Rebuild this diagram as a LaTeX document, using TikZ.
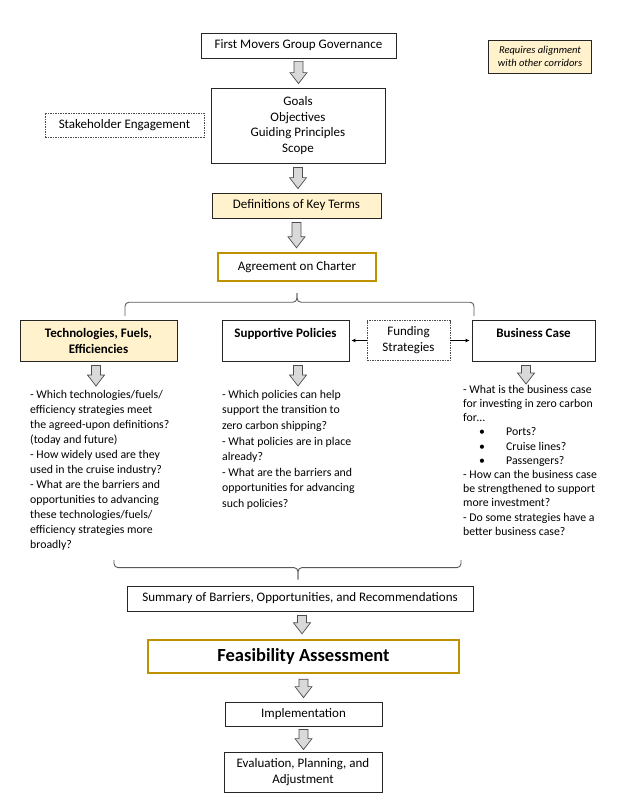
\documentclass[tikz,border=0pt]{standalone}
\usepackage{fontspec}
\setmainfont{Carlito}
\usetikzlibrary{calc,arrows.meta}
\definecolor{paleyellow}{HTML}{FFF2CC}
\definecolor{goldline}{HTML}{BF9000}
\definecolor{arrowfill}{HTML}{D9D9D9}
\definecolor{arrowdraw}{HTML}{4D4D4D}
\definecolor{bracegrey}{HTML}{595959}
\tikzset{
    box/.style={draw=black!85,line width=0.8pt,inner sep=2pt,align=center,font=\fontsize{13}{15.8}\selectfont},
    dashbox/.style={box,draw=black!70,dash pattern=on 1.5pt off 1pt},
    keybox/.style={box,fill=paleyellow},
    goldbox/.style={box,draw=goldline,line width=2.4pt},
    question/.style={inner sep=0pt,anchor=north west,align=left,font=\fontsize{11.8}{15}\selectfont},
    downarrow/.style={draw=arrowdraw,fill=arrowfill,line width=0.7pt,
        to path={let \p1=(\tikztostart), \p2=(\tikztotarget) in
            (\x1-4.5pt,\y1) -- (\x1+4.5pt,\y1) -- (\x1+4.5pt,\y2+11pt) -- (\x1+8.5pt,\y2+11pt)
            -- (\x1,\y2) -- (\x1-8.5pt,\y2+11pt) -- (\x1-4.5pt,\y2+11pt) -- cycle}},
    sidearrow/.style={-{Latex[length=4pt,width=4pt]},line width=0.8pt,shorten >=2pt},
    brace/.style={draw=bracegrey,line width=0.9pt,rounded corners=4pt}
}
\begin{document}
\begin{tikzpicture}[x=1pt,y=-1pt]
        \useasboundingbox (0,0) rectangle (624,808);
        % top of the chart
        \path (298.5,45.5) node[box,minimum width=195,minimum height=25](govern){First Movers Group Governance};
        \path (540,56.5) node[keybox,minimum width=103,minimum height=33,font=\fontsize{10.5}{12.5}\selectfont\itshape](corridors){Requires alignment\\with other corridors};
        \path (124.5,125) node[dashbox,minimum width=159,minimum height=24](stakeholder){Stakeholder Engagement};
        \path (298,125.5) node[box,minimum width=174,minimum height=75](goals){Goals\\Objectives\\Guiding Principles\\Scope};
        \path (296.5,205.5) node[keybox,minimum width=169,minimum height=25](terms){Definitions of Key Terms};
        \path (297,267) node[goldbox,minimum width=158,minimum height=28](charter){Agreement on Charter};
        \draw[downarrow] ([yshift=-3pt]govern.south) to ([yshift=4pt]goals.north);
        \draw[downarrow] ([yshift=-4pt]goals.south) to ([yshift=4pt]terms.north);
        \draw[downarrow] ([yshift=-4pt]terms.south) to ([yshift=4pt]charter.north);

        % three work streams
        \path (98.5,340.5) node[keybox,minimum width=157,minimum height=41,font=\fontsize{13}{16}\selectfont\bfseries](tech){Technologies, Fuels,\\Efficiencies};
        \path (285.5,340.5) node[box,minimum width=127,minimum height=41,font=\fontsize{13}{16}\selectfont\bfseries](policies){Supportive Policies\\~};
        \path (408.5,340.5) node[dashbox,minimum width=83,minimum height=40,font=\fontsize{13}{16}\selectfont](funding){Funding\\Strategies};
        \path (533.5,340.5) node[box,minimum width=123,minimum height=41,font=\fontsize{13}{16}\selectfont\bfseries](business){Business Case\\~};
        \draw[sidearrow] (funding.west) -- (policies.east);
        \draw[sidearrow] (funding.east) -- (business.west);
        \coordinate (toptip) at ([yshift=-11pt]charter.south);
        \draw[brace] (125,316) |- ($(toptip)+(0,9)$) -- (toptip);
        \draw[brace] (toptip) -- ($(toptip)+(0,9)$) -| (474,316);

        % questions
        \path (30,390) node[question](techq){- Which technologies/fuels/\\efficiency strategies meet\\the agreed-upon definitions?\\(today and future)\\- How widely used are they\\used in the cruise industry?\\- What are the barriers and\\opportunities to advancing\\these technologies/fuels/\\efficiency strategies more\\broadly?};
        \path (222,390) node[question,font=\fontsize{11.8}{15.6}\selectfont](policyq){- Which policies can help\\support the transition to\\zero carbon shipping?\\- What policies are in place\\already?\\- What are the barriers and\\opportunities for advancing\\such policies?};
        \path (463,385) node[question,font=\fontsize{11.8}{14.2}\selectfont](businessq){- What is the business case\\for investing in zero carbon\\for…\\
            \makebox[43pt][l]{\hspace{16pt}\textbullet}Ports?\\
            \makebox[43pt][l]{\hspace{16pt}\textbullet}Cruise lines?\\
            \makebox[43pt][l]{\hspace{16pt}\textbullet}Passengers?\\
            - How can the business case\\be strengthened to support\\more investment?\\- Do some strategies have a\\better business case?};
        \draw[downarrow] ([xshift=-2.5pt,yshift=-4pt]tech.south) to ([yshift=4pt]techq.north);
        \draw[downarrow] ([xshift=12.5pt,yshift=-4pt]policies.south) to ([yshift=4pt]techq.north);
        \draw[downarrow] ([xshift=-7.5pt,yshift=-4pt]business.south) to ([yshift=1pt]businessq.north);

        % bottom of the chart
        \path (300,598.5) node[box,minimum width=346,minimum height=25](summary){Summary of Barriers, Opportunities, and Recommendations};
        \path (303.5,656.5) node[goldbox,minimum width=311,minimum height=33,font=\fontsize{18.5}{22}\selectfont\bfseries](feasibility){Feasibility Assessment};
        \path (303.5,714) node[box,minimum width=157,minimum height=24](implementation){Implementation};
        \path (303,772) node[box,minimum width=158,minimum height=40](evaluation){Evaluation, Planning, and\\Adjustment};
        \coordinate (bottip) at ([xshift=-2pt,yshift=6pt]summary.north);
        \draw[brace] (114,560) |- ($(bottip)+(0,-12)$) -- (bottip);
        \draw[brace] (bottip) -- ($(bottip)+(0,-12)$) -| (461,560);
        \draw[downarrow] ([xshift=2pt,yshift=-4pt]summary.south) to ([yshift=5pt]feasibility.north);
        \draw[downarrow] ([yshift=-5pt]feasibility.south) to ([yshift=4pt]implementation.north);
        \draw[downarrow] ([yshift=-3pt]implementation.south) to ([yshift=2pt]evaluation.north);
\end{tikzpicture}
\end{document}
